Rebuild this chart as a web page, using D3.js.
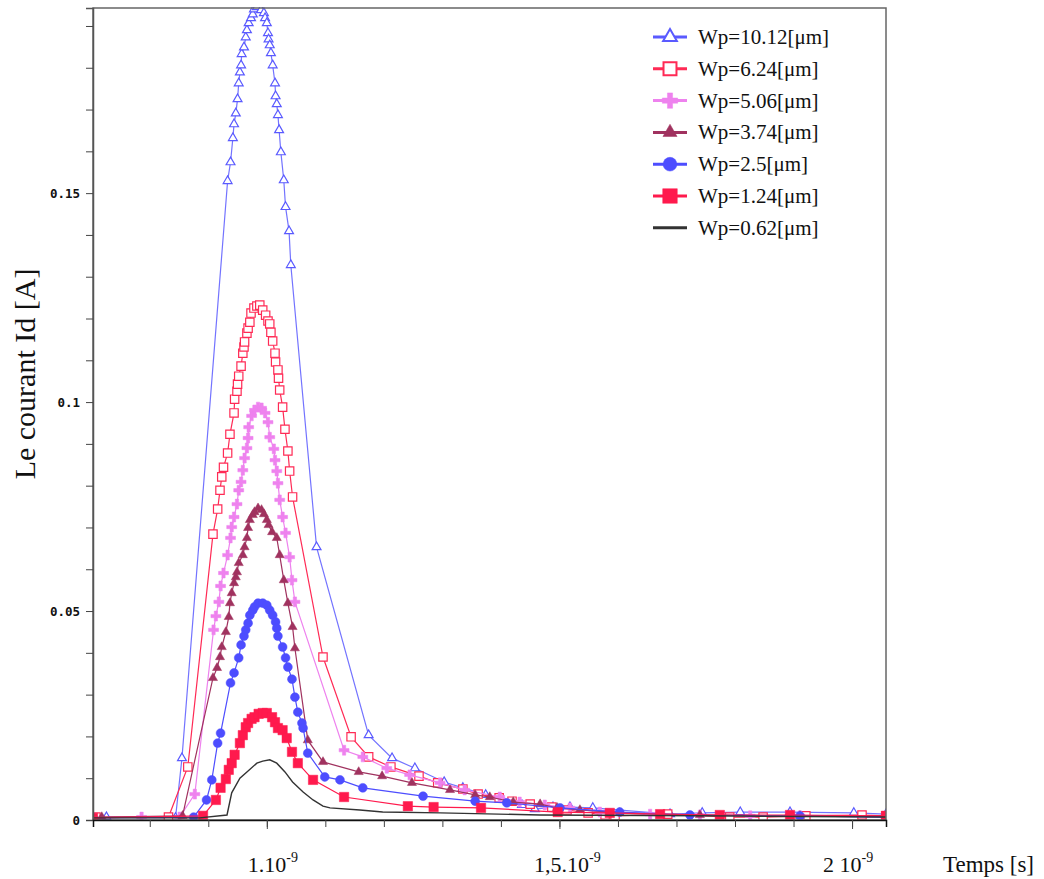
<!DOCTYPE html>
<html>
<head>
<meta charset="utf-8">
<script src="https://cdn.jsdelivr.net/npm/d3@7"></script>
<style>
  html, body { margin: 0; padding: 0; background: #ffffff; }
  svg { display: block; }
</style>
</head>
<body>
<svg id="chart" width="1044" height="879"></svg>
<script>
// ---------------- DATA (time in ns, current in A) ----------------
const seriesNames = ["Wp=10.12[\u03bcm]", "Wp=6.24[\u03bcm]", "Wp=5.06[\u03bcm]", "Wp=3.74[\u03bcm]", "Wp=2.5[\u03bcm]", "Wp=1.24[\u03bcm]", "Wp=0.62[\u03bcm]"];

const t1012 = [0.703,0.726,0.844,0.855,0.933,0.938,0.942,0.944,0.947,0.950,0.952,0.954,0.956,0.957,0.961,0.964,0.966,0.969,0.973,0.976,0.978,0.983,0.990,0.995,0.997,1.000,1.002,1.003,1.005,1.007,1.010,1.014,1.015,1.017,1.019,1.021,1.024,1.029,1.032,1.038,1.041,1.085,1.174,1.214,1.253,1.303,1.335,1.374,1.402,1.436,1.458,1.489,1.518,1.557,1.689,1.744,1.809,1.894,2.003,2.058];
const i1012 = [0.0005,0.0007,0.0005,0.0148,0.1529,0.1574,0.1632,0.1665,0.1691,0.1725,0.1763,0.1789,0.1806,0.1833,0.1849,0.1873,0.1890,0.1907,0.1919,0.1928,0.1940,0.1945,0.1938,0.1931,0.1919,0.1907,0.1883,0.1868,0.1854,0.1835,0.1806,0.1763,0.1732,0.1713,0.1687,0.1651,0.1598,0.1531,0.1467,0.1409,0.1328,0.0653,0.0203,0.0148,0.0124,0.0091,0.0077,0.0060,0.0048,0.0036,0.0026,0.0031,0.0031,0.0029,0.0014,0.0017,0.0019,0.0019,0.0017,0.0014];

const t624 = [0.708,0.832,0.865,0.908,0.916,0.920,0.923,0.926,0.933,0.937,0.944,0.945,0.949,0.950,0.952,0.956,0.959,0.961,0.962,0.966,0.968,0.971,0.973,0.978,0.983,0.988,0.993,0.998,1.002,1.005,1.007,1.010,1.014,1.015,1.019,1.020,1.022,1.027,1.031,1.036,1.039,1.044,1.096,1.144,1.174,1.212,1.260,1.292,1.335,1.361,1.397,1.419,1.450,1.487,1.513,1.549,1.578,1.595,1.685,1.791,1.848,1.921,2.017,2.058];
const i624 = [0.0007,0.0007,0.0127,0.0684,0.0744,0.0789,0.0821,0.0844,0.0878,0.0923,0.0974,0.1007,0.1026,0.1043,0.1062,0.1086,0.1117,0.1132,0.1144,0.1165,0.1177,0.1191,0.1213,0.1225,0.1230,0.1232,0.1220,0.1208,0.1194,0.1187,0.1167,0.1146,0.1117,0.1096,0.1077,0.1057,0.1029,0.0988,0.0935,0.0883,0.0835,0.0773,0.0390,0.0199,0.0151,0.0127,0.0105,0.0089,0.0074,0.0062,0.0053,0.0045,0.0038,0.0031,0.0024,0.0017,0.0012,0.0010,0.0014,0.0007,0.0007,0.0010,0.0012,0.0010];

const t506 = [0.703,0.786,0.851,0.877,0.909,0.913,0.918,0.921,0.926,0.933,0.938,0.940,0.944,0.949,0.952,0.956,0.959,0.962,0.966,0.968,0.969,0.974,0.979,0.985,0.991,0.997,1.002,1.005,1.012,1.014,1.017,1.019,1.022,1.027,1.032,1.039,1.043,1.048,1.132,1.164,1.205,1.244,1.296,1.338,1.398,1.432,1.475,1.518,1.569,1.655,1.740,1.826,1.911,2.058];
const i506 = [0.0005,0.0007,0.0007,0.0062,0.0455,0.0488,0.0522,0.0560,0.0591,0.0634,0.0675,0.0701,0.0725,0.0756,0.0789,0.0809,0.0837,0.0866,0.0890,0.0914,0.0940,0.0967,0.0981,0.0988,0.0986,0.0974,0.0952,0.0916,0.0888,0.0861,0.0835,0.0806,0.0766,0.0725,0.0687,0.0629,0.0574,0.0522,0.0167,0.0151,0.0124,0.0108,0.0089,0.0072,0.0055,0.0043,0.0036,0.0029,0.0019,0.0014,0.0012,0.0010,0.0010,0.0007];

const t374 = [0.703,0.718,0.856,0.908,0.915,0.920,0.923,0.930,0.935,0.937,0.940,0.944,0.947,0.949,0.952,0.959,0.962,0.966,0.968,0.971,0.976,0.979,0.985,0.991,0.995,1.000,1.003,1.009,1.017,1.022,1.029,1.036,1.044,1.048,1.070,1.096,1.157,1.197,1.248,1.313,1.356,1.381,1.421,1.467,1.496,1.535,1.603,1.740,1.911,2.058];
const i374 = [0.0005,0.0007,0.0010,0.0340,0.0364,0.0390,0.0414,0.0450,0.0486,0.0519,0.0543,0.0567,0.0581,0.0593,0.0615,0.0634,0.0653,0.0675,0.0699,0.0718,0.0730,0.0737,0.0746,0.0742,0.0732,0.0718,0.0706,0.0689,0.0675,0.0634,0.0574,0.0519,0.0462,0.0411,0.0191,0.0139,0.0115,0.0105,0.0089,0.0072,0.0060,0.0055,0.0043,0.0038,0.0029,0.0024,0.0017,0.0012,0.0010,0.0010];

const t250 = [0.703,0.875,0.897,0.906,0.916,0.921,0.938,0.944,0.952,0.956,0.961,0.964,0.968,0.971,0.976,0.979,0.985,0.993,1.000,1.005,1.010,1.015,1.017,1.019,1.027,1.032,1.036,1.043,1.048,1.053,1.060,1.062,1.070,1.099,1.125,1.164,1.267,1.356,1.410,1.501,1.603,1.723,1.911,2.058];
const i250 = [0.0005,0.0007,0.0048,0.0096,0.0184,0.0208,0.0328,0.0352,0.0388,0.0419,0.0440,0.0455,0.0471,0.0490,0.0502,0.0510,0.0519,0.0519,0.0514,0.0502,0.0490,0.0474,0.0459,0.0440,0.0414,0.0388,0.0366,0.0337,0.0294,0.0258,0.0232,0.0220,0.0160,0.0103,0.0096,0.0077,0.0057,0.0045,0.0041,0.0029,0.0019,0.0012,0.0010,0.0007];

const t124 = [0.703,0.891,0.913,0.921,0.930,0.935,0.940,0.945,0.954,0.959,0.964,0.968,0.974,0.979,0.986,0.993,1.000,1.009,1.014,1.019,1.027,1.034,1.043,1.053,1.079,1.132,1.241,1.285,1.366,1.497,1.586,1.672,1.774,1.894,2.058];
const i124 = [0.0005,0.0010,0.0048,0.0077,0.0098,0.0120,0.0136,0.0156,0.0184,0.0203,0.0222,0.0232,0.0242,0.0246,0.0254,0.0256,0.0256,0.0246,0.0234,0.0220,0.0215,0.0196,0.0163,0.0136,0.0096,0.0055,0.0033,0.0031,0.0029,0.0019,0.0017,0.0014,0.0012,0.0012,0.0010];

const t062 = [0.703,0.885,0.932,0.940,0.954,0.966,0.983,0.993,1.005,1.017,1.031,1.044,1.062,1.079,1.096,1.108,1.159,1.198,1.296,1.467,1.740,2.058];
const i062 = [0.0005,0.0005,0.0012,0.0065,0.0100,0.0115,0.0136,0.0141,0.0144,0.0136,0.0115,0.0091,0.0067,0.0048,0.0033,0.0029,0.0024,0.0019,0.0017,0.0012,0.0010,0.0007];

const xMinorTicks = [0.8,0.9,1.0,1.1,1.2,1.3,1.4,1.5,1.6,1.7,1.8,1.9,2.0];
const xMajorTicks = [1.0, 1.5, 2.0];
const xMajorLabels = ["1.10", "1,5.10", "2 10"];
const xLabelExponent = "-9";
const yTicks = [0,0.01,0.02,0.03,0.04,0.05,0.06,0.07,0.08,0.09,0.10,0.11,0.12,0.13,0.14,0.15,0.16,0.17,0.18,0.19];
const yLabeled = {"0": "0", "0.05": "0.05", "0.1": "0.1", "0.15": "0.15"};

// ---------------- STYLE / LAYOUT ----------------
const series = [
  {name: seriesNames[0], t: t1012, i: i1012, color: "#5a5aff", marker: "triHollow"},
  {name: seriesNames[1], t: t624,  i: i624,  color: "#ff2a55", marker: "sqHollow"},
  {name: seriesNames[2], t: t506,  i: i506,  color: "#ee82ee", marker: "cross"},
  {name: seriesNames[3], t: t374,  i: i374,  color: "#a0325f", marker: "tri"},
  {name: seriesNames[4], t: t250,  i: i250,  color: "#4d4dff", marker: "circle"},
  {name: seriesNames[5], t: t124,  i: i124,  color: "#ff1a4d", marker: "sq"},
  {name: seriesNames[6], t: t062,  i: i062,  color: "#333333", marker: "none"}
];

const L = 93, R = 886, T = 8, B = 820;
const svg = d3.select("#chart");
const x = d3.scaleLinear().domain([0.703, 2.058]).range([L, R]);
const y = d3.scaleLinear().domain([0, 0.1943]).range([B, T]);

svg.append("defs").append("clipPath").attr("id", "clip")
  .append("rect").attr("x", L).attr("y", T - 1).attr("width", R - L).attr("height", B - T + 1);

function symbolFor(kind, big) {
  const k = big ? 2.4 : 1;
  switch (kind) {
    case "triHollow": return d3.symbol().type(d3.symbolTriangle).size(34 * k)();
    case "tri": return d3.symbol().type(d3.symbolTriangle).size(36 * k)();
    case "sqHollow": return d3.symbol().type(d3.symbolSquare).size(70 * k)();
    case "sq": return d3.symbol().type(d3.symbolSquare).size(88 * k)();
    case "cross": return d3.symbol().type(d3.symbolCross).size(55 * k)();
    case "circle": return d3.symbol().type(d3.symbolCircle).size(62 * k)();
  }
  return null;
}
function styleMarker(sel, s) {
  const hollow = s.marker === "triHollow" || s.marker === "sqHollow";
  sel.attr("fill", hollow ? "#ffffff" : s.color)
     .attr("stroke", s.color)
     .attr("stroke-width", hollow ? 1.2 : 0.5);
}

// ---------------- PLOT ----------------
const plot = svg.append("g").attr("clip-path", "url(#clip)");
const line = d3.line().x(d => x(d[0])).y(d => y(d[1]));

series.forEach(s => {
  const pts = s.t.map((tv, k) => [tv, s.i[k]]);
  const g = plot.append("g");
  g.append("path").datum(pts)
    .attr("d", line)
    .attr("fill", "none")
    .attr("stroke", s.color)
    .attr("stroke-width", s.marker === "none" ? 1.4 : 1.2)
    .attr("stroke-opacity", s.marker === "triHollow" ? 0.85 : 1);
  if (s.marker !== "none") {
    const sym = symbolFor(s.marker, false);
    g.selectAll("path.m").data(pts).join("path")
      .attr("class", "m")
      .attr("d", sym)
      .attr("transform", d => `translate(${x(d[0])},${y(d[1])})`)
      .call(styleMarker, s);
  }
});

// ---------------- FRAME & AXES ----------------
svg.append("rect").attr("x", L).attr("y", T).attr("width", R - L).attr("height", B - T)
  .attr("fill", "none").attr("stroke", "#666").attr("stroke-width", 1.5);

const yAxis = d3.axisLeft(y).tickValues(yTicks).tickSize(7).tickPadding(6)
  .tickFormat(d => { const k = String(+d.toFixed(2)); return yLabeled[k] !== undefined ? yLabeled[k] : ""; });
const gy = svg.append("g").attr("transform", `translate(${L},0)`).call(yAxis);
gy.select(".domain").attr("stroke", "#555").attr("stroke-width", 1.5);
gy.selectAll(".tick line").attr("stroke", "#444");
gy.selectAll(".tick text").attr("font-family", "'DejaVu Sans Mono', monospace")
  .attr("font-weight", "bold").attr("font-size", 12.5).attr("fill", "#111");

const xMinor = d3.axisBottom(x).tickValues(xMinorTicks).tickSize(7).tickFormat("");
const gxm = svg.append("g").attr("transform", `translate(0,${B})`).call(xMinor);
gxm.select(".domain").attr("stroke", "#111").attr("stroke-width", 1.5);
gxm.selectAll(".tick line").attr("stroke", "#444");

const xMajor = d3.axisBottom(x).tickValues(xMajorTicks).tickSize(9).tickFormat("");
const gxM = svg.append("g").attr("transform", `translate(0,${B})`).call(xMajor);
gxM.select(".domain").remove();
gxM.selectAll(".tick line").attr("stroke", "#444");

const labOffsets = [6, 8, -4];
xMajorTicks.forEach((v, k) => {
  const txt = svg.append("text")
    .attr("x", x(v) + labOffsets[k]).attr("y", 872)
    .attr("text-anchor", "middle")
    .attr("font-family", "'Liberation Serif', 'Times New Roman', serif")
    .attr("font-size", 22).attr("fill", "#111");
  txt.append("tspan").text(xMajorLabels[k]);
  txt.append("tspan").attr("font-size", 14).attr("dy", -10).text(xLabelExponent);
});

svg.append("text").attr("x", 943).attr("y", 872)
  .attr("font-family", "'Liberation Serif', 'Times New Roman', serif")
  .attr("font-size", 23).attr("fill", "#111").text("Temps [s]");

svg.append("text")
  .attr("transform", "translate(35,374) rotate(-90)")
  .attr("text-anchor", "middle")
  .attr("font-family", "'Liberation Serif', 'Times New Roman', serif")
  .attr("font-size", 30).attr("fill", "#111").text("Le courant Id [A]");

// ---------------- LEGEND ----------------
const leg = svg.append("g");
series.forEach((s, k) => {
  const cy = 37 + k * 31.8;
  leg.append("line").attr("x1", 653).attr("x2", 687).attr("y1", cy).attr("y2", cy)
    .attr("stroke", s.color).attr("stroke-width", 3);
  if (s.marker !== "none") {
    leg.append("path").attr("d", symbolFor(s.marker, true))
      .attr("transform", `translate(670,${cy})`)
      .call(styleMarker, s)
      .attr("stroke-width", (s.marker === "triHollow" || s.marker === "sqHollow") ? 2 : 0.5);
  }
  leg.append("text").attr("x", 698).attr("y", cy + 7)
    .attr("font-family", "'Liberation Serif', 'Times New Roman', serif")
    .attr("font-size", 21).attr("fill", "#111").text(s.name);
});
</script>
</body>
</html>
